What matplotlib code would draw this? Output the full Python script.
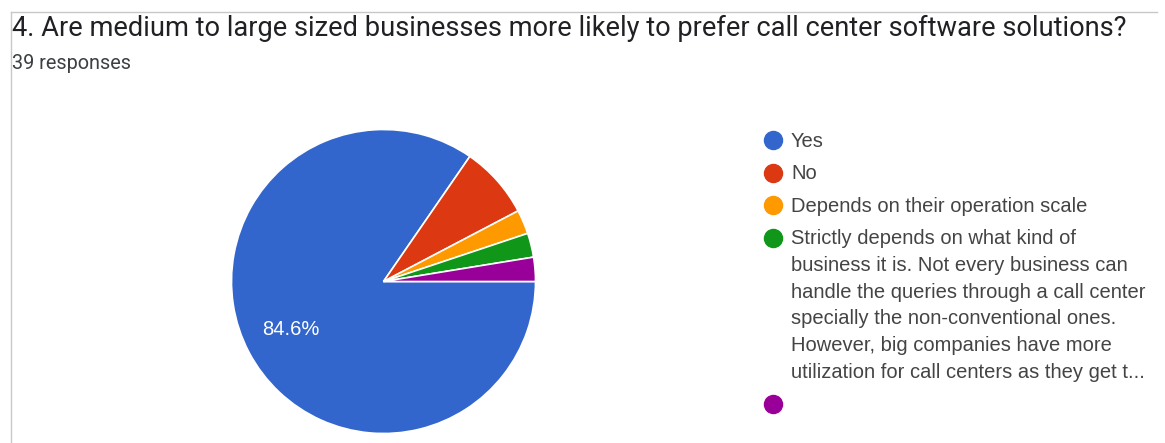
import matplotlib.pyplot as plt
from matplotlib.lines import Line2D

# Survey answers and response counts (39 responses total)
answers = [
    'Yes',
    'No',
    'Depends on their operation scale',
    'Strictly depends on what kind of\nbusiness it is. Not every business can\n'
    'handle the queries through a call center\nspecially the non-conventional ones.\n'
    'However, big companies have more\nutilization for call centers as they get t...',
    '',
]
counts = [33, 3, 1, 1, 1]
colors = ['#3366cc', '#dc3912', '#ff9900', '#109618', '#990099']

title = '4. Are medium to large sized businesses more likely to prefer call center software solutions?'
subtitle = '39 responses'

W, H = 1165, 443
fig = plt.figure(figsize=(W / 100, H / 100), dpi=100)
fig.patch.set_facecolor('white')


def fx(px):
    return px / W


def fy(py):
    return 1 - py / H


# card border (top and left edges)
fig.add_artist(Line2D([fx(11), fx(1157)], [fy(11.7), fy(11.7)], color='#c8c8c8', lw=1))
fig.add_artist(Line2D([fx(11), fx(11)], [0, fy(11.7)], color='#c8c8c8', lw=1))

fig.text(fx(12), fy(36), title, fontsize=19.6, family='Roboto',
         color='#202124', va='baseline')
fig.text(fx(12), fy(69), subtitle, fontsize=14.3, family='Roboto',
         color='#3c4043', va='baseline')

# pie
cx, cy, r = 383.5, 281.5, 152
ax = fig.add_axes([fx(cx - r), (H - cy - r) / H, 2 * r / W, 2 * r / H])
wedges, texts, autotexts = ax.pie(
    counts, colors=colors, startangle=0, counterclock=False,
    wedgeprops=dict(edgecolor='white', linewidth=1.2),
    autopct=lambda p: f'{p:.1f}%' if p > 10 else '',
    pctdistance=0.685,
    textprops=dict(color='white', fontsize=14.5, family='Liberation Sans'))
ax.set_xlim(-1, 1)
ax.set_ylim(-1, 1)
ax.set_aspect('auto')
ax.axis('off')

# legend: a dot per answer, wrapped label lines beside it
dot_x, text_x = 773, 791
entry_gap, line_h = 32.5, 26.8
y = 140
for label, color in zip(answers, colors):
    fig.add_artist(Line2D([fx(dot_x)], [fy(y)], marker='o', markersize=13,
                          markerfacecolor=color, markeredgecolor=color, lw=0))
    lines = label.split('\n') if label else ['']
    for i, line in enumerate(lines):
        if line:
            fig.text(fx(text_x), fy(y + i * line_h + 6.5), line, fontsize=14.5,
                     family='Liberation Sans', color='#444444', va='baseline')
    y += (len(lines) - 1) * line_h + entry_gap

fig.savefig('out.png', dpi=100, facecolor='white')
